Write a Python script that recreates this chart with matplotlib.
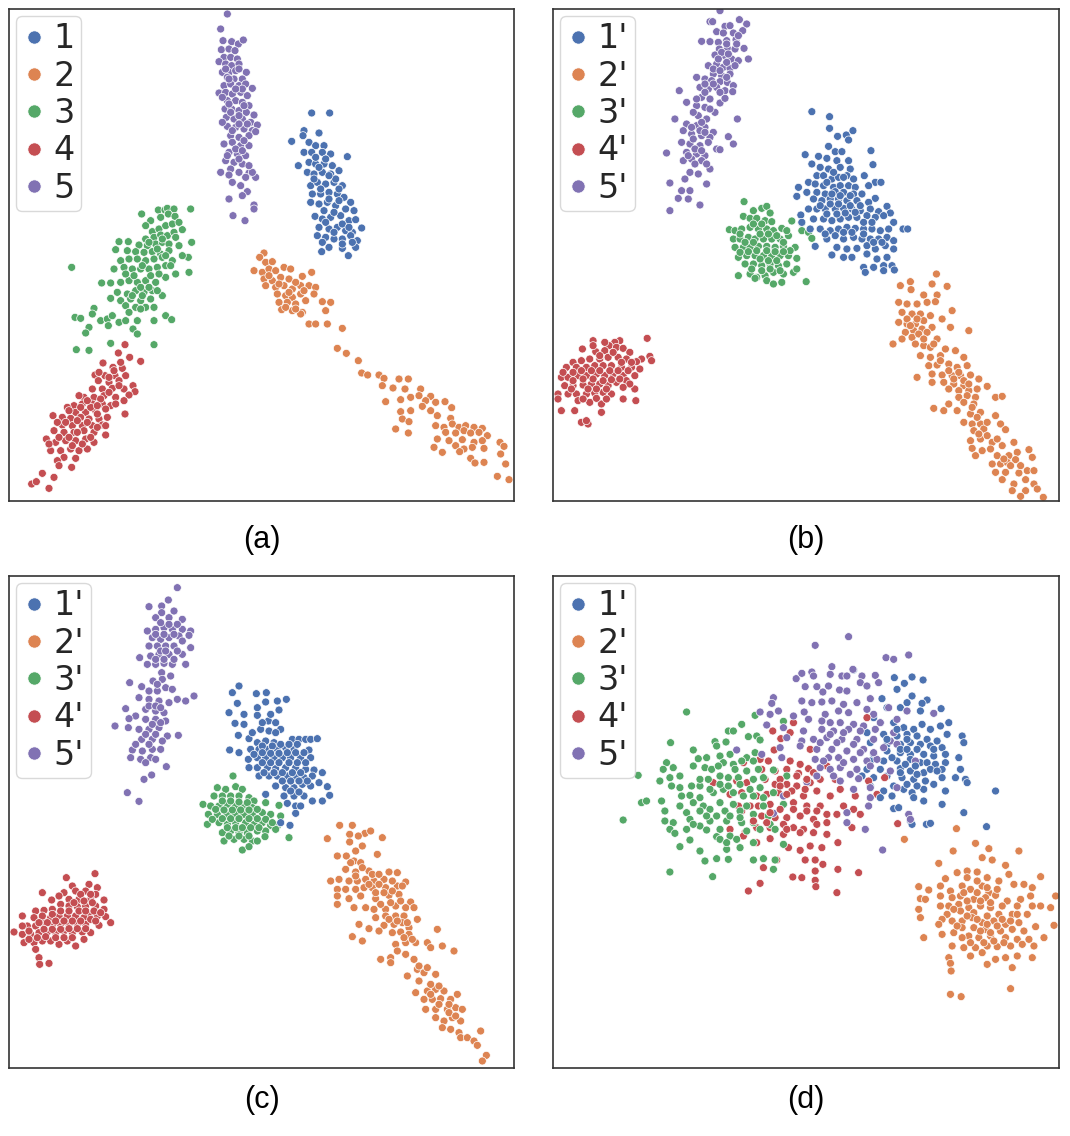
import numpy as np
import matplotlib.pyplot as plt
from matplotlib.lines import Line2D

# legend labels and panel captions
labels_a = ['1', '2', '3', '4', '5']
labels_p = ["1'", "2'", "3'", "4'", "5'"]
captions = ['(a)', '(b)', '(c)', '(d)']
colors = ['#4C72B0', '#DD8452', '#55A868', '#C44E52', '#8172B3']

# embedding points, (x, y) per point, y grows downward
# ---- panel (a)
a1 = [(908,312),(962,312),(885,365),(930,372),(848,397),(882,380),(900,400),(920,410),(945,410),(885,430),(908,430),(940,430),(965,435),(1015,443),(868,470),(900,460),(920,465),(945,465),(970,470),(895,490),(915,495),(940,490),(965,495),(990,485),(905,530),(925,520),(950,525),(975,520),(1000,530),(910,555),(935,555),(960,550),(985,555),(1005,565),(1025,580),(905,580),(930,585),(955,580),(980,590),(1010,600),(1035,605),(918,622),(940,630),(965,625),(995,620),(1020,635),(1040,632),(1058,657),(930,655),(960,660),(985,655),(1010,665),(1030,670),(925,680),(950,685),(975,690),(1000,690),(1025,680),(1045,695),(960,715),(1000,718),(1040,715),(938,728),(1018,740),(1030,700)]
a1 += [(920,445),(950,450),(980,510),(915,510),(935,540),(960,570),(990,575),(945,605),(975,610),(1000,645),(950,640),(975,670),(1000,705),(1020,655),(940,700),(990,540),(960,500),(930,475)]
a2 = [(765,732),(752,745),(770,760),(790,758),(735,785),(760,790),(780,780),(800,785),(825,775),(845,780),(908,790),(765,810),(790,815),(815,805),(840,810),(880,802),(770,830),(800,835),(825,830),(850,840),(875,830),(900,830),(920,835),(805,855),(830,860),(850,865),(875,855),(915,855),(810,880),(835,880),(860,885),(890,875),(940,878),(965,880),(818,902),(850,905),(880,910),(950,905),(875,915),(900,945),(920,945),(955,945),(1000,958),(985,1018),(1012,1033),(1048,1055),(1058,1092),(1076,1098),(1110,1098),(1125,1108),(1170,1110),(1198,1110),(1120,1130),(1152,1137),(1188,1140),(1235,1140),(1265,1162),(1130,1178),(1175,1172),(1205,1165),(1230,1160),(1250,1175),(1280,1180),(1308,1178),(1328,1196),(1175,1208),(1205,1205),(1240,1192),(1265,1205),(1285,1220),(1325,1228),(1180,1230),(1200,1238),(1280,1250),(1305,1255),(1330,1245),(1350,1255),(1370,1250),(1395,1255),(1420,1258),(1310,1270),(1340,1272),(1365,1265),(1385,1272),(1410,1270),(1435,1280),(1160,1260),(1198,1272),(1285,1290),(1320,1295),(1360,1292),(1395,1300),(1420,1295),(1275,1315),(1340,1310),(1365,1320),(1390,1315),(1425,1318),(1300,1330),(1352,1328),(1385,1348),(1398,1362),(1425,1360),(1473,1300),(1485,1312),(1475,1335),(1490,1365),(1465,1402),(1500,1412)]
a2 += [(780,800),(810,825),(840,850),(860,820),(885,845),(830,895),(860,900)]
a3 = [(398,615),(425,635),(410,650),(448,603),(468,603),(475,598),(495,600),(545,600),(478,615),(498,622),(520,662),(430,668),(450,660),(470,650),(490,645),(410,690),(435,685),(455,678),(475,680),(495,670),(548,700),(330,698),(358,698),(390,708),(415,710),(440,705),(460,700),(480,705),(510,710),(320,722),(355,725),(380,728),(405,730),(430,728),(455,735),(480,725),(335,755),(360,750),(385,750),(410,755),(435,750),(460,745),(490,755),(538,745),(188,775),(315,780),(345,775),(370,780),(395,780),(420,780),(445,775),(470,770),(500,795),(540,790),(278,822),(305,822),(335,820),(360,815),(385,820),(410,815),(440,820),(470,805),(325,850),(355,855),(380,845),(405,850),(430,845),(460,860),(305,868),(335,875),(365,870),(395,875),(425,870),(350,890),(380,895),(410,895),(435,895),(255,898),(360,910),(395,900),(198,925),(215,928),(250,915),(275,935),(295,930),(310,920),(330,940),(350,935),(385,935),(435,935),(470,920),(488,932),(240,955),(298,950),(372,960),(230,972),(385,975),(305,1003),(435,1007),(202,1022),(240,1024)]
a3 += [(420,700),(445,720),(470,740),(400,770),(425,800),(450,795),(375,800),(350,795),(395,835),(420,835),(445,845),(370,860),(400,860),(460,690),(500,685),(485,770),(520,740),(510,640),(455,625)]
a4 = [(348,1007),(328,1032),(362,1045),(395,1057),(282,1062),(312,1075),(340,1078),(258,1098),(288,1100),(318,1100),(350,1100),(268,1115),(300,1120),(330,1115),(372,1130),(250,1140),(280,1140),(310,1138),(345,1140),(378,1148),(225,1165),(255,1165),(285,1160),(320,1165),(360,1158),(195,1190),(220,1185),(250,1185),(280,1185),(305,1190),(175,1195),(200,1210),(230,1210),(260,1205),(290,1200),(348,1215),(132,1220),(160,1225),(185,1228),(215,1225),(240,1230),(270,1230),(295,1225),(160,1248),(190,1250),(220,1250),(250,1250),(280,1248),(165,1270),(195,1270),(225,1265),(255,1270),(290,1278),(112,1290),(140,1300),(170,1295),(200,1295),(230,1290),(255,1300),(125,1325),(155,1325),(185,1320),(210,1325),(235,1320),(165,1345),(200,1348),(145,1355),(150,1370),(188,1375),(100,1393),(135,1405),(68,1425),(82,1418),(120,1438)]
a4 += [(170,1240),(205,1235),(235,1240),(265,1215),(245,1195),(215,1195),(275,1170),(300,1150),(330,1130),(300,1105),(235,1175),(205,1270),(180,1285),(150,1285),(135,1265),(190,1310),(220,1305),(245,1285),(265,1255),(290,1250),(315,1085),(335,1060),(270,1090),(210,1160),(180,1205),(145,1240),(120,1305),(320,1185),(345,1175),(265,1190)]
a5 = [(655,15),(635,60),(642,95),(668,98),(688,105),(703,93),(637,122),(660,120),(678,125),(645,145),(665,145),(685,150),(630,158),(650,165),(668,170),(690,165),(640,190),(660,190),(680,185),(712,190),(700,210),(655,205),(675,210),(645,230),(665,225),(690,230),(710,225),(730,238),(630,252),(650,250),(670,255),(695,250),(715,260),(655,275),(680,275),(700,280),(720,290),(648,300),(668,300),(690,305),(712,310),(735,318),(652,325),(675,330),(700,330),(725,340),(745,348),(655,352),(680,355),(705,360),(730,365),(665,380),(690,385),(720,380),(740,368),(645,405),(670,400),(695,410),(720,410),(660,430),(685,435),(710,440),(650,455),(675,460),(700,465),(665,480),(690,490),(635,490),(660,498),(720,492),(740,505),(730,490),(695,530),(715,548),(700,560),(660,570),(735,588),(735,600),(672,620),(708,635)]
a5 += [(650,180),(690,180),(660,210),(700,240),(640,265),(680,240),(705,290),(660,285),(690,320),(665,310),(640,340),(715,345),(690,345),(670,365),(705,395),(680,420),(700,425),(655,440),(690,450),(720,470),(670,520),(710,505)]

# ---- panel (b)
b1 = [(775,308),(828,323),(828,358),(852,382),(878,378),(898,365),(885,393),(952,425),(825,412),(845,428),(865,428),(755,437),(795,442),(820,448),(850,455),(885,455),(958,467),(775,465),(800,475),(825,480),(860,475),(890,480),(790,500),(810,500),(835,510),(855,505),(880,500),(932,500),(965,520),(982,520),(765,520),(785,525),(810,530),(840,535),(860,530),(885,530),(905,535),(945,530),(735,535),(760,550),(790,550),(815,555),(845,548),(870,550),(900,555),(925,555),(965,568),(730,562),(780,570),(805,575),(830,570),(855,570),(880,575),(910,575),(945,580),(1000,592),(765,600),(790,600),(815,600),(845,600),(870,598),(895,600),(920,605),(950,600),(975,608),(1010,612),(742,618),(780,630),(810,630),(835,635),(860,630),(885,625),(910,625),(940,620),(965,625),(990,620),(1020,640),(745,640),(770,660),(800,660),(830,665),(855,660),(880,655),(905,658),(930,660),(955,660),(980,665),(1005,660),(1048,660),(1062,660),(785,712),(820,690),(845,680),(870,690),(900,685),(925,690),(950,690),(975,690),(1000,685),(1020,695),(850,715),(880,720),(910,718),(940,710),(965,720),(995,710),(1020,720),(835,738),(870,745),(895,745),(940,735),(970,750),(1000,745),(930,775),(960,775),(990,770),(1015,770),(935,790),(990,785),(1022,783)]
b1 += [(840,490),(870,505),(900,510),(820,520),(835,555),(860,560),(890,560),(800,590),(830,585),(855,585),(890,590),(920,590),(820,615),(850,615),(875,612),(905,610),(930,640),(955,640),(870,670),(895,670),(930,675),(815,675),(960,700),(985,700)]
b2 = [(1148,795),(1070,818),(1040,830),(1135,825),(1180,832),(1072,842),(1110,858),(1150,858),(1035,880),(1060,885),(1090,885),(1120,880),(1145,878),(1195,905),(1045,910),(1075,915),(1100,915),(1130,920),(1035,940),(1060,945),(1085,945),(1110,935),(1165,930),(1055,970),(1080,965),(1105,960),(1135,955),(1190,955),(1245,965),(1045,990),(1075,985),(1150,990),(1018,1005),(1085,1005),(1110,1010),(1130,1015),(1175,1020),(1205,1025),(1100,1040),(1130,1045),(1160,1040),(1230,1045),(1125,1070),(1150,1068),(1185,1065),(1210,1075),(1240,1070),(1090,1105),(1135,1095),(1165,1098),(1195,1100),(1220,1100),(1250,1098),(1135,1120),(1170,1120),(1200,1125),(1230,1130),(1275,1110),(1300,1132),(1185,1140),(1215,1145),(1245,1145),(1270,1140),(1215,1165),(1240,1160),(1265,1165),(1325,1165),(1345,1162),(1185,1185),(1230,1180),(1260,1185),(1140,1198),(1170,1205),(1210,1205),(1250,1215),(1280,1210),(1325,1220),(1230,1240),(1255,1245),(1280,1245),(1340,1245),(1260,1265),(1290,1260),(1355,1262),(1250,1295),(1280,1290),(1315,1300),(1255,1318),(1285,1325),(1310,1320),(1345,1310),(1380,1300),(1265,1340),(1330,1340),(1365,1340),(1390,1330),(1425,1322),(1315,1365),(1340,1365),(1360,1360),(1385,1352),(1435,1345),(1325,1390),(1355,1390),(1395,1392),(1420,1385),(1440,1385),(1345,1412),(1380,1425),(1415,1412),(1440,1425),(1375,1445),(1415,1445),(1450,1440),(1400,1462),(1468,1465)]
b2 += [(1060,930),(1090,930),(1070,950),(1095,975),(1120,970),(1110,990),(1140,1005),(1160,1055),(1185,1085),(1215,1090),(1200,1110),(1230,1115),(1245,1125),(1255,1195),(1270,1225),(1300,1240),(1275,1275),(1300,1280),(1330,1290),(1350,1350),(1370,1370),(1400,1370)]
b3 = [(572,578),(600,605),(625,598),(640,592),(650,612),(570,622),(590,628),(610,628),(635,635),(655,638),(715,636),(745,642),(528,662),(545,665),(565,660),(590,655),(615,660),(640,660),(660,665),(685,658),(745,665),(765,670),(775,688),(540,690),(560,690),(585,685),(605,690),(630,690),(655,690),(680,690),(705,680),(545,715),(570,715),(590,715),(615,712),(640,712),(665,715),(690,712),(725,715),(555,745),(580,740),(605,740),(630,740),(655,740),(680,740),(705,740),(730,748),(575,765),(600,765),(625,770),(650,765),(675,770),(700,765),(555,800),(590,795),(610,805),(635,800),(660,790),(690,795),(720,790),(605,808),(640,815),(660,825),(685,820),(758,818),(730,780)]
b3 += [(560,675),(575,700),(600,700),(620,675),(645,675),(670,680),(690,700),(710,725),(560,730),(585,728),(610,725),(640,725),(665,728),(690,728),(620,750),(645,755),(670,755),(595,780),(625,785),(650,780),(680,785),(600,645),(625,645),(700,665)]
b4 = [(282,988),(200,995),(185,1000),(120,995),(168,1010),(190,1015),(210,1018),(88,1020),(128,1028),(155,1025),(230,1030),(265,1050),(290,1042),(295,1055),(60,1060),(85,1055),(110,1050),(140,1050),(165,1045),(195,1045),(220,1050),(250,1058),(40,1075),(70,1075),(100,1075),(125,1070),(150,1070),(175,1070),(205,1075),(235,1075),(260,1080),(25,1105),(45,1105),(75,1100),(100,1100),(130,1095),(155,1100),(180,1095),(210,1100),(245,1100),(35,1130),(60,1130),(90,1128),(115,1125),(140,1125),(165,1130),(190,1120),(220,1115),(245,1140),(15,1155),(45,1155),(70,1155),(100,1155),(125,1152),(150,1150),(175,1155),(15,1170),(75,1175),(110,1180),(145,1185),(210,1170),(248,1175),(25,1205),(65,1205),(145,1210),(85,1240),(105,1245),(100,1235)]
b4 += [(60,1090),(85,1085),(115,1085),(140,1085),(170,1085),(195,1085),(225,1085),(90,1110),(120,1110),(150,1115),(175,1112),(200,1110),(230,1125),(60,1115),(140,1040),(180,1030),(205,1060),(235,1060),(130,1140),(160,1140),(105,1140),(55,1140),(90,1170),(130,1168),(160,1170),(30,1090),(210,1135),(120,1010),(155,1000)]
b5 = [(500,5),(470,38),(478,38),(515,52),(558,32),(580,45),(530,50),(490,68),(510,72),(540,72),(568,65),(445,97),(470,98),(495,100),(520,95),(548,92),(498,120),(522,118),(545,120),(572,118),(485,138),(515,140),(535,150),(555,155),(585,150),(465,170),(490,165),(510,175),(530,178),(545,170),(480,195),(505,200),(530,195),(430,205),(455,210),(475,215),(500,218),(522,220),(540,230),(440,235),(465,240),(490,235),(515,245),(538,248),(378,245),(445,265),(470,270),(500,282),(515,268),(400,280),(430,290),(455,295),(485,310),(365,330),(435,320),(460,330),(552,330),(400,345),(430,350),(455,355),(480,370),(390,365),(415,375),(445,380),(470,385),(525,383),(385,400),(410,405),(440,410),(465,400),(540,405),(340,432),(400,430),(430,435),(455,440),(490,420),(500,422),(390,455),(415,450),(445,455),(470,480),(410,490),(395,510),(435,495),(460,525),(350,522),(385,545),(410,545),(375,568),(405,570),(440,588),(350,605)]
b5 += [(505,130),(525,135),(495,150),(520,160),(480,180),(500,185),(520,205),(455,225),(480,225),(500,250),(455,250),(430,270),(470,300),(420,310),(445,340),(415,355),(440,365),(455,370),(420,390),(425,420),(445,425),(405,440),(425,465),(460,465),(520,105),(550,105),(555,80)]

# ---- panel (c)
c1 = [(690,330),(670,350),(742,353),(772,350),(685,382),(770,378),(805,375),(832,370),(660,410),(705,415),(745,395),(745,418),(810,402),(678,442),(705,445),(778,435),(800,440),(815,460),(688,478),(720,488),(755,460),(780,465),(800,470),(745,500),(770,495),(795,500),(850,490),(870,490),(890,490),(905,490),(925,488),(662,522),(690,530),(725,520),(750,520),(775,520),(805,520),(830,515),(855,520),(900,522),(718,550),(745,545),(770,545),(795,545),(820,545),(845,545),(875,545),(905,545),(720,575),(745,575),(775,575),(800,578),(830,575),(860,575),(890,580),(915,582),(940,590),(750,600),(780,600),(805,600),(835,600),(860,605),(885,605),(910,600),(930,620),(955,632),(800,630),(830,635),(855,635),(880,625),(905,630),(770,655),(825,660),(855,660),(885,660),(910,675),(962,658),(835,682),(860,690),(875,690),(940,675),(815,740),(843,748),(860,712)]
c1 += [(760,510),(790,510),(815,505),(840,505),(865,505),(735,535),(760,530),(785,532),(810,532),(835,530),(860,530),(885,530),(760,560),(785,560),(810,560),(840,560),(865,560),(890,560),(765,590),(795,590),(820,590),(850,590),(875,590),(820,615),(845,615),(870,615),(895,615),(845,645),(870,648),(730,470),(760,440),(785,415)]
c2 = [(992,748),(1030,748),(1068,772),(1085,765),(955,788),(1022,775),(1048,780),(1120,785),(1022,798),(1040,825),(1060,810),(985,840),(1012,840),(1035,855),(1055,860),(1105,835),(1010,880),(1040,888),(1080,885),(1140,888),(1165,890),(965,915),(990,910),(1020,915),(1045,915),(1070,910),(1095,915),(1125,910),(1190,918),(985,940),(1010,940),(1040,940),(1065,935),(1090,935),(1130,935),(1165,930),(1180,930),(985,960),(1020,968),(1055,960),(1100,968),(1140,958),(1170,955),(1205,978),(985,985),(1035,995),(1070,995),(1095,1000),(1130,1000),(1160,990),(1190,995),(1215,995),(1100,1025),(1130,1020),(1160,1020),(1185,1020),(1225,1030),(1050,1045),(1125,1048),(1155,1045),(1180,1040),(1200,1055),(1080,1058),(1110,1065),(1150,1070),(1175,1068),(1200,1075),(1285,1060),(1030,1082),(1060,1095),(1160,1105),(1190,1100),(1220,1100),(1255,1100),(1265,1115),(1300,1110),(1335,1125),(1115,1150),(1145,1145),(1165,1125),(1190,1135),(1215,1150),(1145,1160),(1225,1180),(1245,1190),(1195,1200),(1230,1215),(1280,1195),(1220,1250),(1255,1245),(1280,1240),(1305,1245),(1345,1255),(1245,1270),(1270,1270),(1295,1268),(1325,1270),(1250,1300),(1280,1300),(1315,1300),(1340,1295),(1360,1300),(1280,1325),(1305,1335),(1330,1325),(1355,1335),(1300,1355),(1325,1360),(1350,1370),(1415,1365),(1355,1385),(1375,1385),(1395,1395),(1405,1408),(1432,1438),(1420,1455)]
c2 += [(1025,860),(1060,875),(1090,895),(1110,895),(1040,900),(1080,925),(1110,925),(1150,915),(1100,950),(1125,950),(1150,945),(1115,985),(1145,980),(1175,975),(1140,1030),(1165,1035),(1195,1040),(1185,1085),(1210,1090),(1230,1170),(1255,1175),(1265,1225),(1290,1230),(1265,1255),(1290,1285),(1320,1285),(1320,1310),(1340,1320)]
c3 = [(672,600),(625,635),(650,640),(680,632),(700,640),(582,685),(615,660),(640,660),(665,660),(690,660),(720,665),(735,675),(605,690),(630,690),(655,685),(680,690),(705,690),(730,695),(770,680),(810,688),(598,715),(625,715),(655,715),(680,715),(705,715),(730,715),(760,710),(785,715),(815,720),(595,745),(630,740),(655,745),(680,740),(710,740),(735,745),(760,740),(785,748),(805,750),(640,770),(665,765),(690,770),(715,770),(745,765),(770,765),(800,760),(645,795),(675,790),(705,790),(730,795),(745,795),(700,822),(720,812),(768,782),(840,785)]
c3 += [(640,675),(665,675),(690,678),(715,680),(620,700),(645,702),(670,702),(695,702),(720,702),(745,700),(610,730),(640,728),(665,728),(690,728),(720,728),(745,728),(770,730),(655,755),(680,755),(700,755),(725,755),(750,755),(790,740),(660,780),(690,780),(720,780)]
c4 = [(172,905),(258,893),(190,930),(240,925),(265,935),(100,950),(165,950),(200,945),(230,945),(260,955),(285,972),(128,972),(180,970),(210,970),(245,970),(155,985),(180,990),(205,992),(230,990),(260,990),(285,1000),(80,1005),(105,1003),(130,1000),(240,1015),(265,1020),(290,1022),(40,1020),(75,1025),(100,1030),(125,1025),(150,1020),(175,1020),(200,1020),(225,1025),(305,1040),(55,1050),(80,1050),(105,1050),(130,1048),(155,1045),(180,1045),(205,1045),(230,1045),(270,1048),(15,1068),(40,1075),(65,1075),(90,1070),(115,1068),(140,1070),(165,1065),(190,1070),(220,1068),(245,1070),(45,1100),(75,1100),(100,1095),(125,1095),(150,1105),(175,1095),(200,1110),(225,1090),(80,1120),(90,1145),(92,1165),(120,1162)]
c4 += [(150,960),(215,955),(245,955),(195,980),(225,975),(250,980),(100,1020),(130,1015),(155,1005),(180,1005),(210,1005),(230,1005),(255,1005),(275,1010),(90,1040),(115,1040),(140,1035),(165,1035),(190,1035),(215,1035),(245,1030),(60,1065),(105,1060),(130,1060),(155,1060),(180,1058),(205,1058),(230,1058),(60,1090),(85,1085),(110,1082),(140,1085),(165,1085),(190,1085),(40,1050),(260,1035)]
c5 = [(505,35),(478,72),(420,92),(458,90),(458,110),(495,105),(440,125),(480,125),(520,130),(415,165),(440,160),(465,155),(490,160),(520,160),(545,165),(430,185),(455,190),(480,185),(510,180),(540,178),(420,210),(445,210),(470,210),(495,210),(545,215),(425,240),(450,235),(480,235),(520,235),(392,245),(415,265),(440,265),(465,262),(490,265),(530,265),(458,290),(460,310),(485,300),(432,315),(362,320),(398,332),(420,345),(445,345),(470,335),(490,340),(555,360),(530,375),(390,365),(420,370),(450,375),(480,380),(505,370),(350,398),(410,400),(440,405),(465,410),(380,420),(360,428),(410,430),(440,430),(470,435),(318,450),(358,455),(390,460),(420,460),(450,455),(475,480),(398,490),(430,490),(460,495),(508,478),(370,522),(400,525),(430,520),(455,520),(365,545),(395,550),(425,545),(440,550),(472,572),(428,597),(405,610),(355,650),(390,676)]
c5 += [(455,140),(480,145),(505,145),(440,175),(465,175),(495,175),(520,195),(455,225),(470,225),(505,225),(440,250),(465,250),(495,250),(445,325),(420,390),(440,390),(455,395),(430,445),(455,440),(410,475),(440,475),(420,505),(410,560),(380,505)]

# ---- panel (d)
d1 = [(900,282),(1022,305),(1075,303),(1108,312),(1052,322),(1030,340),(1075,360),(1120,372),(1105,382),(985,368),(1000,395),(1040,395),(1060,380),(1100,405),(1162,398),(1185,440),(960,425),(980,440),(1020,440),(1050,455),(1080,460),(1105,445),(1130,460),(1160,450),(1180,475),(1225,480),(940,470),(990,475),(1030,480),(1060,475),(1090,480),(1120,490),(1150,495),(1230,500),(950,500),(1000,505),(1040,505),(1070,500),(1100,505),(1130,510),(1165,515),(1175,535),(920,530),(960,535),(1000,525),(1040,530),(1070,535),(1110,535),(1140,540),(1215,545),(950,555),(990,555),(1030,555),(1070,550),(1100,560),(1145,565),(1175,560),(910,580),(940,580),(980,580),(1040,578),(1070,585),(1110,590),(1165,580),(1220,580),(1205,605),(1235,610),(925,600),(960,605),(1000,600),(1045,605),(1080,610),(1115,615),(1140,625),(1165,605),(1240,620),(950,630),(990,645),(1020,630),(1050,640),(1075,650),(1110,640),(1175,645),(1325,645),(980,665),(1015,660),(1080,665),(1110,675),(1165,685),(1020,698),(1035,695),(1230,710),(1070,735),(1075,745),(1118,745),(1130,742),(1298,752)]
d1 += [(1030,460),(1060,490),(1040,520),(1060,520),(1090,520),(1055,565),(1085,570),(1040,590),(1090,595),(1120,560),(1130,580),(1150,585),(1060,625),(1090,630),(1000,490),(1015,545),(1140,520)]
d2 = [(1208,758),(1052,790),(1265,802),(1198,825),(1305,818),(1395,825),(1285,845),(1315,852),(1155,862),(1355,868),(1175,908),(1210,890),(1240,885),(1270,888),(1300,905),(1335,915),(1365,895),(1380,925),(1410,925),(1435,935),(1460,902),(1095,932),(1125,942),(1160,930),(1190,945),(1225,930),(1250,940),(1285,930),(1305,950),(1160,960),(1195,965),(1220,960),(1260,970),(1295,965),(1325,958),(1360,975),(1400,970),(1430,960),(1100,968),(1115,970),(1160,990),(1185,990),(1215,985),(1245,995),(1280,990),(1310,995),(1345,990),(1390,990),(1435,990),(1460,990),(1490,995),(1505,960),(1095,1000),(1180,1015),(1220,1005),(1260,1010),(1300,1020),(1335,1015),(1375,1015),(1420,1015),(1100,1025),(1165,1030),(1195,1035),(1225,1035),(1255,1025),(1285,1040),(1320,1035),(1355,1045),(1395,1040),(1445,1052),(1500,1048),(1155,1045),(1225,1055),(1260,1055),(1295,1060),(1340,1065),(1375,1060),(1410,1065),(1165,1075),(1200,1070),(1245,1080),(1275,1085),(1310,1080),(1355,1085),(1390,1090),(1425,1090),(1470,1085),(1110,1085),(1195,1110),(1230,1115),(1265,1115),(1300,1110),(1330,1112),(1370,1110),(1405,1105),(1440,1110),(1185,1145),(1250,1140),(1285,1130),(1325,1150),(1355,1145),(1390,1140),(1435,1145),(1190,1162),(1300,1165),(1375,1175),(1192,1185),(1370,1238),(1190,1255),(1222,1262)]
d2 += [(1240,905),(1270,915),(1230,950),(1270,950),(1300,935),(1330,940),(1240,975),(1280,975),(1310,980),(1240,1020),(1270,1030),(1300,1045),(1330,1050),(1280,1065),(1310,1070),(1250,1100),(1290,1100),(1320,1095),(1350,1100),(1225,1085),(1210,1050),(1200,1000),(1345,1030),(1370,1035),(1390,1015)]
d3 = [(400,408),(605,418),(690,436),(565,445),(525,465),(540,465),(610,480),(585,482),(620,492),(352,500),(485,497),(490,510),(518,498),(420,522),(500,540),(530,535),(580,545),(605,530),(435,548),(460,545),(510,560),(540,565),(565,555),(600,555),(340,560),(360,575),(420,570),(455,575),(475,580),(495,570),(545,580),(580,585),(615,580),(660,582),(255,598),(330,580),(350,605),(380,600),(320,615),(355,630),(380,635),(440,630),(465,610),(500,600),(525,605),(555,605),(600,610),(630,605),(700,600),(410,658),(440,665),(480,650),(510,640),(540,650),(570,660),(600,660),(630,665),(660,650),(265,680),(280,675),(325,675),(385,660),(420,680),(450,690),(500,680),(540,685),(580,690),(630,690),(690,685),(210,732),(335,705),(400,710),(440,705),(470,700),(515,705),(560,705),(600,715),(645,720),(335,735),(360,740),(410,730),(470,735),(520,735),(565,740),(600,740),(650,745),(350,760),(365,772),(400,760),(440,750),(460,762),(500,760),(530,780),(580,765),(620,760),(665,760),(410,792),(490,782),(550,790),(600,800),(690,805),(380,812),(440,825),(520,820),(525,850),(490,848),(455,855),(600,852),(630,848),(665,852),(350,888),(478,902),(660,880)]
d3 += [(470,640),(500,625),(525,630),(560,625),(590,640),(620,635),(460,720),(490,720),(530,720),(560,725),(420,745),(500,790),(520,800),(560,815),(440,610),(415,630),(380,690)]
d4 = [(720,440),(658,465),(682,488),(710,470),(662,522),(770,520),(620,550),(570,560),(645,555),(710,555),(740,565),(765,578),(625,580),(665,585),(700,580),(735,592),(780,590),(820,570),(480,620),(550,615),(580,620),(635,610),(665,625),(700,625),(730,630),(770,620),(800,610),(845,610),(530,655),(565,650),(610,660),(640,655),(675,650),(715,645),(750,660),(790,645),(830,660),(860,640),(905,660),(555,690),(590,690),(615,690),(650,685),(690,685),(720,680),(760,690),(800,690),(870,690),(920,715),(565,705),(625,720),(665,725),(700,725),(740,720),(780,730),(820,715),(850,715),(900,700),(530,760),(575,770),(610,755),(650,755),(690,745),(720,755),(750,760),(790,745),(820,740),(895,755),(570,780),(610,800),(650,788),(690,775),(740,770),(780,770),(820,775),(1032,743),(945,615),(970,655),(993,605),(940,425),(705,815),(740,823),(770,810),(805,815),(853,800),(670,852),(755,852),(785,852),(630,875),(808,865),(718,903),(745,905),(785,885),(853,880),(915,890),(620,922),(585,945),(785,913),(787,932),(850,950)]
d4 += [(680,610),(700,655),(730,600),(760,610),(755,640),(720,700),(760,705),(790,705),(680,700),(650,710),(600,735),(640,740),(700,760),(680,630)]
d5 = [(885,182),(785,208),(997,245),(1020,250),(1065,237),(898,280),(835,272),(728,308),(745,292),(775,288),(780,300),(830,295),(865,300),(880,300),(925,300),(965,298),(975,320),(755,332),(790,332),(825,330),(858,342),(880,345),(920,320),(940,330),(808,348),(745,375),(775,380),(805,378),(835,375),(870,385),(910,380),(950,368),(660,365),(655,382),(620,408),(650,415),(675,405),(752,408),(765,430),(815,415),(855,405),(885,410),(940,400),(960,415),(1005,395),(1060,405),(1140,412),(720,420),(640,447),(690,455),(805,435),(830,440),(860,440),(900,445),(930,450),(980,440),(1030,430),(750,465),(805,460),(840,465),(885,460),(920,465),(965,460),(1020,470),(700,485),(745,495),(780,490),(820,485),(865,490),(910,490),(960,490),(1010,495),(550,522),(625,535),(680,515),(740,510),(790,520),(835,520),(880,525),(930,520),(990,515),(1030,505),(685,545),(825,545),(855,545),(900,550),(940,555),(970,550),(1085,555),(800,575),(830,580),(860,575),(910,580),(950,570),(1010,585),(760,618),(790,600),(840,600),(860,615),(915,608),(950,635),(1030,635),(950,665),(900,640),(690,660),(660,712),(880,710),(945,690),(1065,715),(880,740),(935,760),(987,822),(1070,730)]
d5 += [(800,500),(850,500),(900,505),(830,475),(870,470),(785,550),(810,555),(870,560),(920,530),(960,530),(890,595)]

panels = [[a1, a2, a3, a4, a5], [b1, b2, b3, b4, b5],
          [c1, c2, c3, c4, c5], [d1, d2, d3, d4, d5]]
legend_labels = [labels_a, labels_p, labels_p, labels_p]

W, H = 1070, 1136
fig = plt.figure(figsize=(W / 100, H / 100), dpi=100)

# axes boxes in pixels: left, top, width, height
boxes = [(9, 9, 505, 492), (553, 9, 506, 492),
         (9, 576, 505, 492), (553, 576, 506, 492)]
caption_xy = [(262, 540), (806, 540), (262, 1100), (806, 1100)]

for k in range(4):
    l, t, w, h = boxes[k]
    ax = fig.add_axes([l / W, 1 - (t + h) / H, w / W, h / H])

    # mix the clusters in drawing order (like one hue-scatter call)
    xs, ys, cs, order = [], [], [], []
    for i, pts in enumerate(panels[k]):
        p = np.array(pts, dtype=float)
        xs.append(p[:, 0])
        ys.append(p[:, 1])
        cs += [colors[i]] * len(p)
        order.append(np.arange(len(p)) / len(p) + i * 1e-4)
    xs = np.concatenate(xs)
    ys = np.concatenate(ys)
    order = np.argsort(np.concatenate(order), kind='stable')
    cs = np.array(cs)

    ax.scatter(xs[order], ys[order], c=cs[order], s=33,
               edgecolors='white', linewidths=0.5)

    ax.set_xlim(0, 1515)
    ax.set_ylim(1476, 0)
    ax.set_xticks([])
    ax.set_yticks([])
    for sp in ax.spines.values():
        sp.set_color('#333333')
        sp.set_linewidth(1.2)

    handles = [Line2D([], [], marker='o', linestyle='', markersize=9.5,
                      markerfacecolor=colors[i], markeredgecolor='white',
                      markeredgewidth=0.5)
               for i in range(5)]
    leg = ax.legend(handles, legend_labels[k], loc='upper left',
                    prop={'family': 'DejaVu Sans', 'size': 24},
                    labelspacing=0.13, borderpad=0.2, handlelength=0.68,
                    handletextpad=0.25, borderaxespad=0.2, frameon=True,
                    fancybox=True)
    leg.get_frame().set_edgecolor('#d0d0d0')
    leg.get_frame().set_linewidth(1.0)
    for txt in leg.get_texts():
        txt.set_color('#262626')

    cx, cy = caption_xy[k]
    fig.text(cx / W, 1 - cy / H, captions[k], ha='center', va='center',
             fontsize=22, family='Liberation Sans', color='black')

fig.savefig('out.png', dpi=100)
